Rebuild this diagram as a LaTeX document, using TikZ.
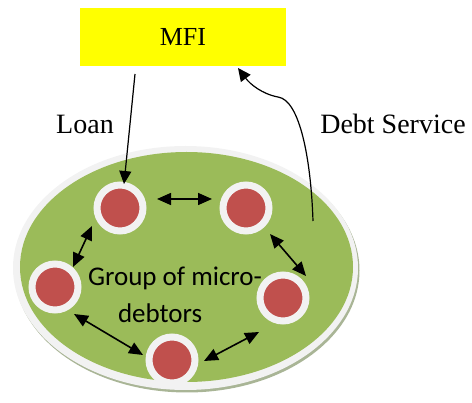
\documentclass[tikz,border=0pt]{standalone}
\usepackage{fontspec}
\setmainfont{Liberation Serif}
\newfontfamily\grpfont{Carlito}
\usetikzlibrary{arrows.meta}
\definecolor{mfiyellow}{HTML}{FFFF00}
\definecolor{groupgreen}{HTML}{9BBB59}
\definecolor{memberred}{HTML}{C0504D}
\definecolor{ringwhite}{HTML}{F2F2F2}
\definecolor{shadowgreen}{HTML}{A9B596}
\tikzset{
  member/.style={circle, fill=memberred, draw=ringwhite, line width=7pt,
    minimum size=46pt, inner sep=0pt},
  link/.style={line width=1.6pt, {Triangle[length=14pt,width=12pt]}-{Triangle[length=14pt,width=12pt]}},
  flow/.style={line width=1.2pt, -{Triangle[length=13pt,width=12pt]}},
  caption/.style={font=\fontsize{28}{32}\selectfont, inner sep=0pt}
}
\begin{document}
\begin{tikzpicture}[x=1pt,y=-1pt]
\useasboundingbox (0,0) rectangle (472,403);

% lender box
\node[fill=mfiyellow, minimum width=206pt, minimum height=58pt, inner sep=0pt,
      font=\fontsize{26}{30}\selectfont] (mfi) at (183,37) {MFI};

% group of borrowers: shadow, pale rim, green body
\fill[shadowgreen] (187,270.5) ellipse [x radius=172.5, y radius=122];
\fill[ringwhite] (185.5,268) ellipse [x radius=172.5, y radius=122];
\fill[groupgreen] (186.5,267) ellipse [x radius=166.5, y radius=115];

% members
\node[member] (m1) at (120,208) {};
\node[member] (m2) at (246,208) {};
\node[member] (m3) at (55,287) {};
\node[member] (m4) at (283,298) {};
\node[member] (m5) at (172,360) {};

\node[font=\grpfont\fontsize{27}{37}\selectfont, align=left, inner sep=0pt] (grp) at (175,295)
  {Group of micro-\\\hspace*{30pt}debtors};

% peer links
\coordinate (a1) at (157,199); \coordinate (a2) at (212,199);
\coordinate (b1) at (92,226);  \coordinate (b2) at (73,267);
\coordinate (c1) at (270,234); \coordinate (c2) at (306,276);
\coordinate (d1) at (74,314);  \coordinate (d2) at (143,355);
\coordinate (e1) at (204,361); \coordinate (e2) at (259,332);
\draw[link] (a1) -- (a2);
\draw[link] (b1) -- (b2);
\draw[link] (c1) -- (c2);
\draw[link] (d1) -- (d2);
\draw[link] (e1) -- (e2);

% flows between lender and group
\coordinate (loanstart) at (135,74);
\coordinate (loanend) at (124,184);
\draw[flow] (loanstart) -- (loanend);
\coordinate (paystart) at (313,221);
\coordinate (paybend) at (278,97);
\coordinate (payend) at (238,68);
\draw[flow] (paystart) .. controls (311,160) and (300,100) .. (paybend)
  .. controls (262,94) and (250,84) .. (payend);

\node[caption] (loan) at (85,124) {Loan};
\node[caption] (debt) at (393,124) {Debt Service};
\end{tikzpicture}
\end{document}
